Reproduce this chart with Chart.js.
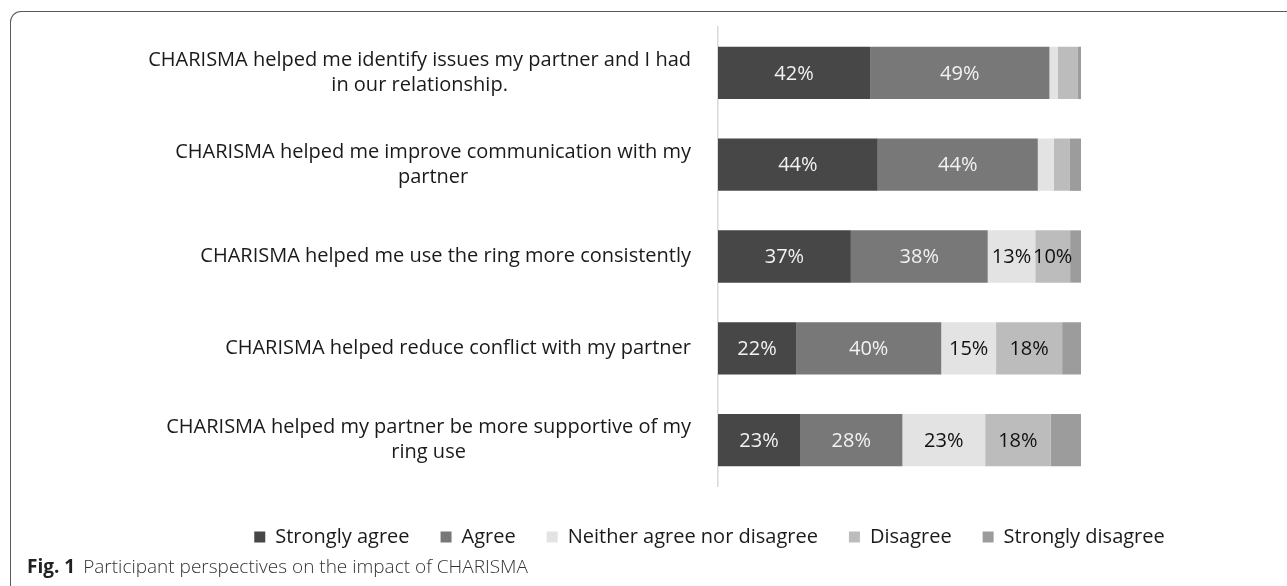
<!DOCTYPE html>
<html>
<head>
<meta charset="utf-8">
<script src="https://cdn.jsdelivr.net/npm/chart.js@4"></script>
<style>
  body { margin: 0; background: #fff; }
  #frame { position: absolute; left: 10px; top: 11px; width: 1320px; height: 620px;
    border-top: 1.5px solid #5a5a5a; border-left: 1.5px solid #5a5a5a; border-top-left-radius: 11px; }
  #wrap { position: absolute; left: 0; top: 0; width: 1287px; height: 560px; }
  #caption { position: absolute; left: 27px; top: 553px; font-family: "Open Sans", sans-serif;
    font-size: 19px; line-height: 26px; color: #333; font-weight: 300; white-space: nowrap; }
  #caption b { font-weight: 700; color: #222; margin-right: 8px; }
</style>
</head>
<body>
<div id="frame"></div>
<div id="wrap"><canvas id="chart"></canvas></div>
<div id="caption"><b>Fig. 1</b>Participant perspectives on the impact of CHARISMA</div>
<script>
const statements = [
  ['CHARISMA helped me identify issues my partner and I had', 'in our relationship.'],
  ['CHARISMA helped me improve communication with my', 'partner'],
  ['CHARISMA helped me use the ring more consistently'],
  ['CHARISMA helped reduce conflict with my partner'],
  ['CHARISMA helped my partner be more supportive of my', 'ring use']
]

const responses = ['Strongly agree', 'Agree', 'Neither agree nor disagree', 'Disagree', 'Strongly disagree']

// percent of participants per statement
const stronglyAgree = [41.9, 44.0, 36.6, 21.5, 22.6]
const agree = [49.4, 44.1, 37.7, 40.0, 28.2]
const neither = [2.3, 4.4, 13.1, 15.1, 22.8]
const disagree = [5.4, 4.3, 9.6, 18.2, 18.0]
const stronglyDisagree = [1.0, 3.2, 3.0, 5.2, 8.4]

const colors = ['#474747', '#787878', '#e3e3e3', '#bcbcbc', '#9c9c9c']
const textColors = ['#f2f2f2', '#f2f2f2', '#111', '#111', '#111']

const series = [stronglyAgree, agree, neither, disagree, stronglyDisagree]

const FONT = '"Open Sans", sans-serif'

const valueLabels = {
  id: 'valueLabels',
  afterDatasetsDraw(chart) {
    const ctx = chart.ctx
    ctx.save()
    ctx.font = '20px ' + FONT
    ctx.textAlign = 'center'
    ctx.textBaseline = 'middle'
    chart.data.datasets.forEach((ds, i) => {
      if (i === 4) return
      chart.getDatasetMeta(i).data.forEach((bar, j) => {
        const v = ds.data[j]
        if (v < 9) return
        ctx.fillStyle = textColors[i]
        ctx.fillText(Math.round(v) + '%', (bar.x + bar.base) / 2, bar.y + 1)
      })
    })
    ctx.restore()
  }
}

// statement labels: block right aligned, lines centred in the block
const statementLabels = {
  id: 'statementLabels',
  afterDraw(chart) {
    const ctx = chart.ctx
    const y = chart.scales.y
    const right = 691
    ctx.save()
    ctx.font = '20px ' + FONT
    ctx.fillStyle = '#1a1a1a'
    ctx.textAlign = 'center'
    ctx.textBaseline = 'middle'
    statements.forEach((lines, i) => {
      const w = Math.max(...lines.map(l => ctx.measureText(l).width))
      const cx = right - w / 2
      const cy = y.getPixelForValue(i)
      lines.forEach((l, k) => {
        ctx.fillText(l, cx, cy + (k - (lines.length - 1) / 2) * 25)
      })
    })
    ctx.restore()
  }
}

new Chart(document.getElementById('chart'), {
  type: 'bar',
  data: {
    labels: statements,
    datasets: series.map((d, i) => ({
      label: responses[i],
      data: d,
      backgroundColor: colors[i],
      borderWidth: 0,
      categoryPercentage: 0.57,
      barPercentage: 1
    }))
  },
  options: {
    indexAxis: 'y',
    responsive: true,
    maintainAspectRatio: false,
    animation: false,
    layout: { padding: { top: 27, bottom: 3, left: 132 } },
    scales: {
      x: {
        stacked: true, min: 0, max: 100,
        ticks: { display: false },
        grid: { display: false },
        border: { display: false },
        afterFit(s) { s.height = 10 }
      },
      y: {
        stacked: true,
        ticks: { display: false },
        grid: { display: false },
        border: { color: '#d9d9d9', width: 1.5 },
        afterFit(s) { s.width = 718 - 132 }
      },
      yRight: {
        position: 'right',
        type: 'linear',
        display: true,
        ticks: { display: false },
        grid: { display: false },
        border: { display: false },
        afterFit(s) { s.width = 206 }
      }
    },
    plugins: {
      legend: {
        position: 'bottom',
        labels: {
          boxWidth: 11,
          boxHeight: 11,
          padding: 31,
          color: '#1a1a1a',
          font: { family: FONT, size: 20 }
        }
      },
      tooltip: { enabled: false }
    }
  },
  plugins: [valueLabels, statementLabels]
})
</script>
</body>
</html>
